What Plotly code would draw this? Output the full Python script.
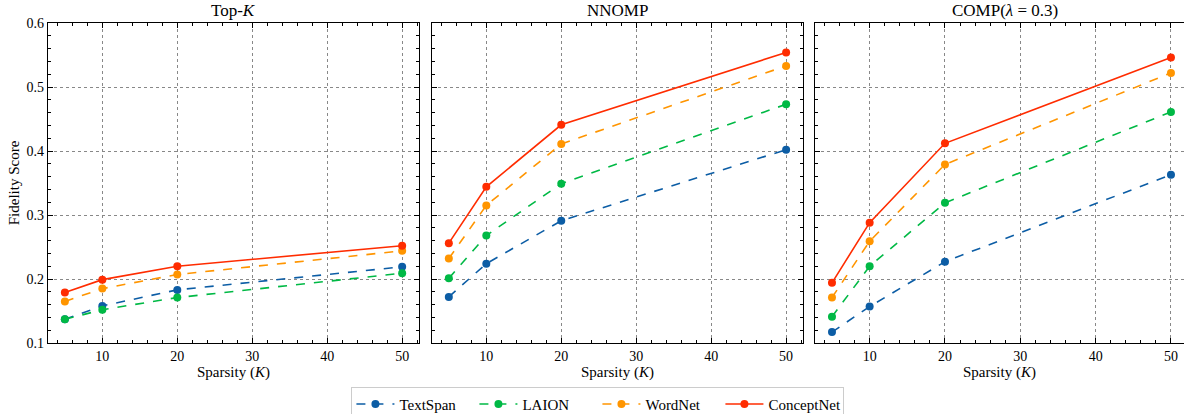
import plotly.graph_objects as go

sparsity = [5, 10, 20, 50]
series_names = ["TextSpan", "LAION", "WordNet", "ConceptNet"]
panel_titles = ["Top-<i>K</i>", "NNOMP", "COMP(<i>λ</i> = 0.3)"]

topk_textspan = [0.137, 0.158, 0.183, 0.219]
topk_laion = [0.137, 0.152, 0.171, 0.209]
topk_wordnet = [0.165, 0.185, 0.207, 0.244]
topk_conceptnet = [0.179, 0.199, 0.220, 0.252]

nnomp_textspan = [0.172, 0.224, 0.291, 0.402]
nnomp_laion = [0.201, 0.268, 0.349, 0.473]
nnomp_wordnet = [0.232, 0.315, 0.411, 0.533]
nnomp_conceptnet = [0.256, 0.344, 0.441, 0.554]

comp_textspan = [0.117, 0.157, 0.227, 0.363]
comp_laion = [0.141, 0.220, 0.319, 0.461]
comp_wordnet = [0.171, 0.259, 0.379, 0.522]
comp_conceptnet = [0.194, 0.288, 0.412, 0.546]

panels = [
    [topk_textspan, topk_laion, topk_wordnet, topk_conceptnet],
    [nnomp_textspan, nnomp_laion, nnomp_wordnet, nnomp_conceptnet],
    [comp_textspan, comp_laion, comp_wordnet, comp_conceptnet],
]

colors = ["#0C5DA5", "#00B945", "#FF9500", "#FF2C00"]
dashes = ["dash", "dash", "dash", "solid"]

FONT = "Liberation Serif, DejaVu Serif, Times New Roman, serif"
fig = go.Figure()

domains = [[0.0, 0.3266], [0.338, 0.6646], [0.6752, 1.0]]
xranges = [[2.75, 52.25], [2.75, 52.25], [2.75, 51.73]]

for p, data in enumerate(panels):
    xa = "x" if p == 0 else f"x{p+1}"
    ya = "y" if p == 0 else f"y{p+1}"
    for s, vals in enumerate(data):
        fig.add_trace(go.Scatter(
            x=sparsity, y=vals, mode="lines+markers",
            name=series_names[s], legendgroup=series_names[s],
            showlegend=(p == 0), cliponaxis=False,
            line=dict(color=colors[s], width=1.6, dash=dashes[s]),
            marker=dict(color=colors[s], size=8),
            xaxis=xa, yaxis=ya,
        ))

common_axis = dict(
    showline=True, linecolor="black", linewidth=1.2,
    ticks="inside", ticklen=5, tickwidth=1, tickcolor="black",
    showgrid=True, gridcolor="#888888", griddash="dot", gridwidth=0.8,
    zeroline=False,
    tickfont=dict(family=FONT, size=14, color="black"),
)

layout = {}
for p in range(3):
    xkey = "xaxis" if p == 0 else f"xaxis{p+1}"
    ykey = "yaxis" if p == 0 else f"yaxis{p+1}"
    ya = "y" if p == 0 else f"y{p+1}"
    xa = "x" if p == 0 else f"x{p+1}"
    layout[xkey] = dict(
        common_axis, domain=domains[p], range=xranges[p], anchor=ya,
        tickvals=[10, 20, 30, 40, 50], mirror="allticks",
        minor=dict(dtick=2, tick0=0, ticks="inside", ticklen=2.5, tickcolor="black", showgrid=False),
        title=dict(text="Sparsity (<i>K</i>)", font=dict(family=FONT, size=15, color="black"), standoff=1),
    )
    layout[ykey] = dict(
        common_axis, domain=[0, 1], range=[0.1, 0.6], anchor=xa,
        tickvals=[0.1, 0.2, 0.3, 0.4, 0.5, 0.6], ticktext=["0.1", "0.2", "0.3", "0.4", "0.5", "0.6"],
        mirror=("allticks" if p < 2 else False),
        showticklabels=(p == 0),
        minor=dict(dtick=0.02, tick0=0.1, ticks="inside", ticklen=2.5, tickcolor="black", showgrid=False),
    )
    if p == 0:
        layout[ykey]["title"] = dict(text="Fidelity Score", font=dict(family=FONT, size=15, color="black"), standoff=3)

annotations = []
title_x = [(domains[0][0] + domains[0][1]) / 2, (domains[1][0] + domains[1][1]) / 2, 0.842]
for p in range(3):
    annotations.append(dict(
        text=panel_titles[p], x=title_x[p], y=1.0, xref="paper", yref="paper",
        xanchor="center", yanchor="bottom", yshift=1, showarrow=False,
        font=dict(family=FONT, size=17, color="black"),
    ))

fig.update_layout(
    **layout,
    annotations=annotations,
    width=1184, height=414,
    margin=dict(l=48, r=0, t=23, b=71),
    plot_bgcolor="white", paper_bgcolor="white",
    font=dict(family=FONT, size=14, color="black"),
    legend=dict(
        orientation="h", xref="container", yref="container",
        x=0.505, y=0.066, xanchor="center", yanchor="top",
        bordercolor="#cccccc", borderwidth=1,
        font=dict(family=FONT, size=15, color="black"),
        itemwidth=38, entrywidth=70,
    ),
)

fig.write_html("out.html", config={"displayModeBar": False},
               post_script="document.body.style.margin='0';document.body.style.padding='0';")
